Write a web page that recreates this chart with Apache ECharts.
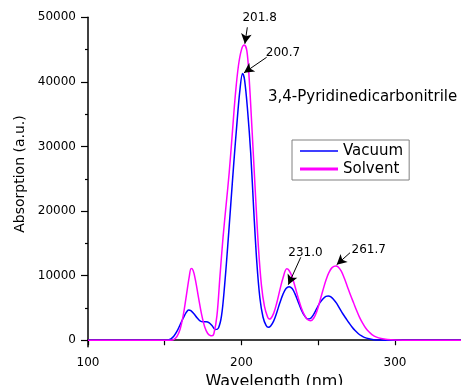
<!DOCTYPE html>
<html>
<head>
<meta charset="utf-8">
<script src="https://cdn.jsdelivr.net/npm/echarts@6/dist/echarts.min.js"></script>
<style>html,body{margin:0;padding:0;background:#fff}#c{width:461px;height:385px}</style>
</head>
<body>
<div id="c"></div>
<script>
// ---- data ----
const vacuumWl  = [100,150,152,154,156,158,160,162,164,165.5,167,169,171,173,175,177,179,181,183,185,187,189,191,193,195,197,199,200.7,202,204,206,208,210,212,214,216,217.5,219,221,223,225,227,229,231,233,235,237,239,241,243,245,247,249,251,253,255,256.5,258,260,262,264,266,268,270,272,274,276,278,280,283,286,290,295,350];
const vacuumAbs = [0,0,40,200,650,1400,2400,3400,4300,4700,4600,4100,3500,3000,2850,2880,2700,2200,1650,1900,3800,8500,14500,21000,27500,33500,38800,41300,40300,35500,29000,20000,12000,6500,3600,2300,2000,2200,3000,4300,5800,7100,8000,8300,8000,7100,5900,4700,3800,3300,3400,4000,4900,5800,6400,6800,6860,6750,6300,5700,4900,4100,3400,2700,2050,1500,1050,700,450,220,90,30,0,0];
const solventWl  = [100,150,154,156,158,160,162,164,166,167.2,168.5,170,172,174,176,178,180,180.8,182,184,186,188,190,192,194,196,198,200,201.8,203.5,205,207,209,211,213,215,217,218,219,221,223,225,227,229.5,231,233,235,237,239,241,243,245,247,249,251,253,255,257,259,261.5,263,265,267,269,271,273,275,277,279,281,283,285,288,291,295,300,310,350];
const solventAbs = [0,0,0,120,600,1700,3800,6800,9900,11100,10800,9300,6600,4000,2100,1050,700,680,1000,3800,10000,16000,21000,26000,32000,38000,42500,45000,45700,44800,40500,32000,23000,14500,8500,5200,3600,3300,3350,4200,5800,7800,9600,11050,10800,9800,8200,6500,5000,3900,3200,3000,3400,4400,6000,7700,9300,10500,11250,11500,11350,10700,9600,8300,7000,5800,4600,3500,2600,1850,1300,880,480,260,120,50,10,0];
const seriesNames = ['Vacuum','Solvent'];
const peakLabels = ['201.8','200.7','231.0','261.7'];
const peakWl  = [201.8, 200.7, 231.0, 261.7];
const peakAbs = [45700, 41300, 8300, 11500];
const peakSeries = [1, 0, 0, 1];
const xTickValues = [100,150,200,250,300];
const xLabelValues = [100,200,300];
const yMajorValues = [0,10000,20000,30000,40000,50000];
const yMinorValues = [5000,15000,25000,35000,45000];
const chartTitle = '3,4-Pyridinedicarbonitrile';

// ---- annotation layout offsets (data units) ----
const tipOff   = [[0.4,200],[0.9,100],[-0.5,300],[0.3,200]];
const tailOff  = [[2.0,2750],[15.7,2510],[7.6,4540],[9.0,2050]];
const labelOff = [[10.0,4200],[26.3,3180],[10.7,5210],[21.2,2470]];

const FONT = 'DejaVu Sans';
function pairs(xs, ys){ return xs.map((x,i)=>[x, ys[i]]); }
function annFor(si){
  const lines = [], pts = [];
  peakLabels.forEach((lab,i)=>{
    if (peakSeries[i] !== si) return;
    const tip = [peakWl[i]+tipOff[i][0], peakAbs[i]+tipOff[i][1]];
    const tail = [peakWl[i]+tailOff[i][0], peakAbs[i]+tailOff[i][1]];
    lines.push([{coord: tail}, {coord: tip}]);
    pts.push({name: lab, value: lab, coord: [peakWl[i]+labelOff[i][0], peakAbs[i]+labelOff[i][1]]});
  });
  return {
    markLine: {silent:true, animation:false, symbol:['none','arrow'], symbolSize:[8,10],
      lineStyle:{color:'#000', width:1, type:'solid'}, label:{show:false}, emphasis:{disabled:true}, data: lines},
    markPoint: {silent:true, animation:false, symbol:'rect', symbolSize:2,
      itemStyle:{color:'rgba(255,255,255,0)'},
      label:{show:true, position:'inside', formatter: p => p.name, color:'#000', fontSize:12, fontFamily:FONT},
      emphasis:{disabled:true},
      data: pts}
  };
}
const legendIcons = [
  'path://M0,0L0.01,0L0,0.01Z M0,6.3L38,6.3L38,7.7L0,7.7Z M38,14L37.99,14L38,13.99Z',
  'path://M0,0L0.01,0L0,0.01Z M0,5.6L38,5.6L38,8.4L0,8.4Z M38,14L37.99,14L38,13.99Z'
];

const chart = echarts.init(document.getElementById('c'));
const colors = ['#0000ff','#ff00ff'];
const dataSets = [pairs(vacuumWl, vacuumAbs), pairs(solventWl, solventAbs)];
chart.setOption({
  animation: false,
  textStyle: {fontFamily: FONT},
  title: {text: chartTitle, left: 268, top: 90, padding: 0,
    textStyle: {fontSize: 15, fontWeight: 'normal', color: '#000', fontFamily: FONT}},
  legend: {
    data: seriesNames.map((n,i)=>({name: n, icon: legendIcons[i], itemStyle:{color: colors[i]}})),
    orient: 'vertical', left: 292, top: 140, itemWidth: 38, itemHeight: 14, itemGap: 2,
    padding: [3,6,3,8], borderColor: '#808080', borderWidth: 1, selectedMode: false,
    textStyle: {fontSize: 15, color: '#000', lineHeight: 16, fontFamily: FONT}
  },
  grid: {left: 88, right: 0, top: 17.3, bottom: 38.3, containLabel: false, outerBoundsMode: 'none'},
  xAxis: {
    type: 'value', min: 100, max: 343,
    name: 'Wavelength (nm)', nameLocation: 'middle', nameGap: 26,
    nameTextStyle: {fontSize: 16, color: '#000', fontFamily: FONT},
    axisLine: {show: true, lineStyle: {color: '#000', width: 1.5}},
    axisTick: {show: true, length: 5, customValues: xTickValues, lineStyle:{color:'#000', width:1.2}},
    axisLabel: {customValues: xLabelValues, color: '#000', fontSize: 12, margin: 10, fontFamily: FONT,
      formatter: v => String(v)},
    splitLine: {show: false}
  },
  yAxis: [{
    type: 'value', min: -1000, max: 50000,
    name: 'Absorption (a.u.)', nameLocation: 'middle', nameGap: 52,
    nameTextStyle: {fontSize: 14, color: '#000', fontFamily: FONT, padding: [0,0,0,16]},
    axisLine: {show: true, lineStyle: {color: '#000', width: 1.5}},
    axisTick: {show: true, length: 7, customValues: yMajorValues, lineStyle:{color:'#000', width:1.2}},
    axisLabel: {customValues: yMajorValues, color: '#000', fontSize: 12, margin: 12, fontFamily: FONT,
      formatter: v => String(v)},
    splitLine: {show: false}
  },{
    type: 'value', min: -1000, max: 50000, position: 'left', offset: 0,
    axisLine: {show: false},
    axisTick: {show: true, length: 3, customValues: yMinorValues, lineStyle:{color:'#000', width:1.2}},
    axisLabel: {show: false}, splitLine: {show: false}
  }],
  series: seriesNames.map((n, si) => Object.assign({
    name: n, type: 'line', data: dataSets[si], showSymbol: false, symbol: 'none',
    smooth: 0.35, color: colors[si], lineStyle: {color: colors[si], width: 1.5},
    yAxisIndex: 0, z: 2 + si, emphasis: {disabled: true}
  }, annFor(si)))
});
</script>
</body>
</html>
